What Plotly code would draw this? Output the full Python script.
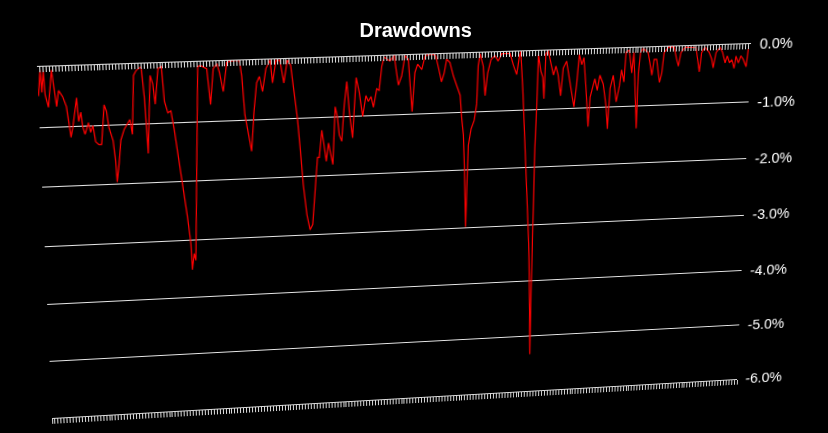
import numpy as np
import plotly.graph_objects as go

# drawdown curve (period index, drawdown in %)
period = [0.1, 0.9, 1.2, 1.9, 2.2, 3.1, 4.5, 5.1, 5.7, 6.5, 7.7, 8.8, 9.4, 9.9, 10.6,
          12.1, 12.5, 13.3, 13.7, 14.4, 15.6, 16.2, 17.0, 17.7, 18.7, 19.6, 20.8, 21.5,
          22.1, 23.3, 23.9, 24.2, 25.0, 25.8, 27.0, 28.1, 28.9, 29.6, 30.5, 31.4, 32.3,
          33.0, 33.8, 34.2, 34.5, 35.8, 36.6, 37.2, 38.4, 39.5, 40.2, 41.2, 42.2, 43.1,
          44.0, 44.9, 45.8, 46.7, 47.6, 47.9, 48.6, 49.1, 51.2, 52.0, 54.1, 55.1, 56.2,
          57.4, 58.2, 59.3, 60.6, 62.8, 64.7, 65.4, 66.2, 67.2, 68.2, 69.2, 70.2, 71.1,
          72.1, 73.3, 74.7, 75.4, 76.6, 77.9, 79.1, 80.3, 81.4, 82.4, 83.4, 84.2, 85.1,
          86.2, 87.2, 88.1, 89.0, 89.9, 90.5, 91.4, 92.1, 92.8, 93.6, 94.3, 95.0, 95.9,
          96.6, 97.2, 98.0, 98.9, 99.8, 100.6, 101.6, 102.9, 103.9, 105.0, 106.1, 106.9,
          107.8, 108.6, 109.7, 110.5, 111.4, 112.2, 114.1, 115.5, 116.9, 118.0, 119.1,
          120.2, 121.1, 121.5, 122.4, 123.3, 124.7, 125.8, 128.0, 129.3, 130.4, 131.3,
          132.2, 133.0, 134.1, 135.3, 136.4, 137.6, 138.2, 138.8, 139.2, 139.8, 140.1,
          140.5, 141.4, 142.4, 143.2, 143.6, 144.2, 145.3, 146.0, 146.8, 147.9, 149.2,
          150.3, 151.5, 152.6, 154.3, 155.4, 156.6, 157.4, 157.9, 158.8, 159.4, 160.3,
          161.0, 161.6, 162.0, 162.6, 162.7, 162.8, 163.0, 163.2, 163.6, 163.9, 164.8,
          165.5, 166.0, 166.4, 167.2, 169.1, 169.9, 170.7, 171.7, 172.4, 173.5, 174.8,
          176.3, 177.1, 177.8, 178.7, 179.4, 180.3, 181.3, 181.8, 182.6, 183.3, 184.2,
          185.0, 186.2, 187.4, 188.0, 188.6, 189.6, 190.8, 191.8, 192.4, 193.3, 193.8,
          194.9, 195.9, 196.5, 198.0, 198.2, 198.8, 199.7, 201.4, 202.9, 203.5, 204.4,
          205.6, 206.3, 206.9, 208.3, 210.3, 211.3, 212.0, 212.7, 214.1, 217.9, 218.5,
          219.3, 219.9, 221.0, 222.5, 223.5, 224.1, 224.9, 226.2, 227.2, 228.2, 228.9,
          229.7, 230.5, 231.4, 231.9, 232.8, 233.6, 234.5, 235.6, 236.1]

drawdown = [-0.48, -0.05, -0.42, -0.06, -0.46, -0.67, -0.06, -0.43, -0.66, -0.40, -0.50,
            -0.67, -0.99, -1.18, -1.01, -0.53, -0.92, -0.77, -1.00, -1.14, -0.95, -1.11,
            -1.00, -1.27, -1.32, -1.32, -0.66, -0.77, -1.04, -1.26, -1.60, -1.96, -1.65,
            -1.26, -1.08, -0.99, -0.92, -1.17, -0.19, -0.11, -0.08, -0.05, -0.57, -1.12,
            -1.50, -0.20, -0.34, -0.68, -0.09, -0.06, -0.64, -0.83, -0.80, -1.11, -1.47,
            -1.87, -2.27, -2.61, -3.07, -3.52, -3.24, -3.36, -0.08, -0.06, -0.12, -0.72,
            -0.12, -0.04, -0.19, -0.51, -0.02, 0.0, 0.0, -0.26, -0.91, -1.19, -1.53, -0.86,
            -0.38, -0.28, -0.53, -0.15, -0.01, -0.39, -0.02, -0.02, -0.40, -0.02, -0.11,
            -0.56, -1.00, -1.51, -2.14, -2.66, -2.92, -2.83, -2.20, -1.68, -1.68, -1.22,
            -1.47, -1.75, -1.44, -1.64, -1.81, -0.83, -1.00, -1.31, -1.42, -0.81, -0.41,
            -0.93, -1.37, -0.35, -0.60, -1.01, -0.66, -0.76, -0.68, -0.86, -0.55, -0.58,
            -0.17, -0.02, -0.09, 0.0, -0.50, -0.35, -0.01, -0.07, -0.79, -0.96, -0.30,
            -0.16, -0.25, -0.02, 0.0, -0.02, -0.26, -0.47, -0.32, -0.09, -0.15, -0.38,
            -0.54, -0.71, -1.11, -1.39, -1.91, -2.99, -2.32, -1.57, -1.29, -1.15, -0.87,
            -0.22, -0.02, -0.23, -0.73, -0.35, -0.12, -0.06, -0.15, -0.03, -0.03, -0.03,
            -0.22, -0.39, -0.10, 0.0, -0.67, -1.24, -2.10, -2.81, -3.33, -3.98, -5.33,
            -4.23, -3.57, -2.46, -1.65, -0.96, -0.06, -0.35, -0.45, -0.82, -0.06, 0.0,
            -0.42, -0.27, -0.42, -0.78, -0.31, -0.19, -0.53, -0.98, -0.59, -0.08, -0.26,
            -0.14, -0.65, -1.33, -0.82, -0.66, -0.51, -0.71, -0.45, -0.60, -1.00, -1.38,
            -0.68, -0.46, -0.92, -0.64, -0.37, -0.58, -0.07, -0.04, -0.43, -0.08, -1.39,
            -0.44, -0.08, -0.02, -0.09, -0.48, -0.21, -0.21, -0.61, -0.45, -0.10, -0.01,
            -0.01, -0.22, -0.34, -0.11, -0.02, -0.03, -0.24, -0.45, -0.12, -0.03, -0.12,
            -0.24, -0.39, -0.13, -0.04, -0.13, -0.31, -0.19, -0.31, -0.26, -0.41, -0.20,
            -0.32, -0.20, -0.26, -0.39, -0.09]

y_ticks = [0, -1, -2, -3, -4, -5, -6]
y_labels = ["0.0%", "-1.0%", "-2.0%", "-3.0%", "-4.0%", "-5.0%", "-6.0%"]

fig = go.Figure()
fig.add_trace(go.Scatter(x=period, y=drawdown, mode="lines",
                         line=dict(color="#ff0000", width=1.2), showlegend=False))
# empty trace so the top tick axis gets drawn
fig.add_trace(go.Scatter(x=[], y=[], xaxis="x2", showlegend=False))

tick_col = "#dcdcdc"
L, R, T, B = 45, 744, 55, 399
fig.update_layout(
    width=828, height=433,
    paper_bgcolor="black", plot_bgcolor="black",
    margin=dict(l=L, r=828 - R, t=T, b=433 - B),
    font=dict(family="Liberation Sans, Arial, sans-serif", color="white"),
    title=dict(text="<b>Drawdowns</b>", x=0.502, xanchor="center", y=0.93,
               yanchor="middle", font=dict(size=20, color="white")),
    xaxis=dict(range=[0, 237], dtick=1, ticks="outside", ticklen=5, tickwidth=1,
               tickcolor=tick_col, showticklabels=False, showgrid=False,
               zeroline=False, showline=True, linecolor=tick_col, linewidth=1),
    xaxis2=dict(overlaying="x", side="top", matches="x", dtick=1, ticks="inside",
                ticklen=5, tickwidth=1, tickcolor=tick_col, showticklabels=False,
                showgrid=False, zeroline=False, showline=True, linecolor=tick_col),
    yaxis=dict(range=[-6, 0], side="right", tickvals=y_ticks, ticktext=y_labels,
               ticks="", showgrid=True, gridcolor="#e6e6e6", gridwidth=1,
               zeroline=False, showline=False, ticklabelstandoff=8,
               tickfont=dict(size=15, color="white")),
)

# the reference plot area is seen in perspective: map the plot rectangle
# onto the tilted quadrilateral with a projective transform
src = [(L, T), (R, T), (L, B), (R, B)]
dst = [(37, 67), (751, 44), (52, 418), (737, 379)]
A, rhs = [], []
for (x, y), (X, Y) in zip(src, dst):
    A.append([x, y, 1, 0, 0, 0, -X * x, -X * y]); rhs.append(X)
    A.append([0, 0, 0, x, y, 1, -Y * x, -Y * y]); rhs.append(Y)
a, b, c, d, e, f, g, h = np.linalg.solve(np.array(A, float), np.array(rhs, float))
m3d = ",".join(f"{v:.10f}" for v in [a, d, 0, g, b, e, 0, h, 0, 0, 1, 0, c, f, 0, 1])

js = ("document.body.style.margin='0';"
      "document.body.style.background='black';"
      "var s=document.querySelectorAll('.main-svg')[0];"
      "s.style.transformOrigin='0 0';"
      f"s.style.transform='matrix3d({m3d})';")

fig.write_html("out.html", post_script=js, config={"displayModeBar": False})
